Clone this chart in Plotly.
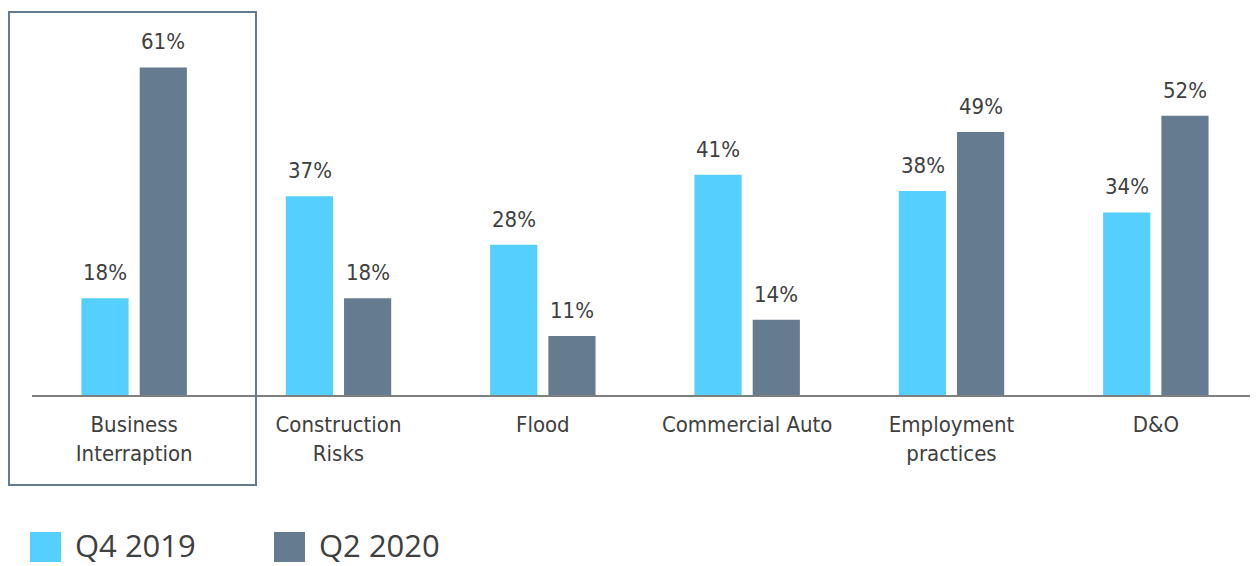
import plotly.graph_objects as go

categories = ["Business<br>Interraption", "Construction<br>Risks", "Flood",
              "Commercial Auto", "Employment<br>practices", "D&O"]
q4_2019 = [18, 37, 28, 41, 38, 34]
q2_2020 = [61, 18, 11, 14, 49, 52]
series_names = ["Q4 2019", "Q2 2020"]
colors = ["#55CFFD", "#657B8F"]

TEXT = "#404040"
LABEL_FONT = "DejaVu Sans Condensed, DejaVu Sans, sans-serif"
LEGEND_FONT = "Open Sans, Noto Sans, sans-serif"

fig = go.Figure()
for name, vals, col in zip(series_names, [q4_2019, q2_2020], colors):
    fig.add_trace(go.Bar(x=categories, y=vals, name=name, marker_color=col,
                         marker_line_width=0, showlegend=False))

# value labels above bars (offset left/right for the grouped bars)
for vals, shift in [(q4_2019, -29), (q2_2020, 29)]:
    for cat, v in zip(categories, vals):
        fig.add_annotation(x=cat, y=v, text=f"{v}%", showarrow=False,
                           xshift=shift, yshift=11, yanchor="bottom",
                           font=dict(family=LABEL_FONT, size=22, color=TEXT))

# highlight box around first category
fig.add_shape(type="rect", xref="paper", yref="paper",
              x0=-0.0188, x1=0.1827, y0=-0.234, y1=0.995,
              line=dict(color="#637A90", width=2))

# custom legend
for i, (name, col) in enumerate(zip(series_names, colors)):
    x0 = (30 + i * 244 - 32) / 1226
    fig.add_shape(type="rect", xref="paper", yref="paper",
                  x0=x0, x1=x0 + 31 / 1226,
                  y0=(395 - 562) / 385, y1=(395 - 532) / 385,
                  fillcolor=col, line_width=0)
    fig.add_annotation(xref="paper", yref="paper", x=x0 + 43 / 1226,
                       y=(395 - 545) / 385, text=name, showarrow=False,
                       xanchor="left", yanchor="middle",
                       font=dict(family=LEGEND_FONT, size=31, color=TEXT))

# page has an 8px body margin, so the figure is 8px smaller each way
fig.update_layout(
    width=1250, height=558,
    margin=dict(l=24, r=0, t=2, b=171),
    barmode="group", bargap=0.43, bargroupgap=0.19,
    plot_bgcolor="white", paper_bgcolor="white",
    font=dict(family=LABEL_FONT, color=TEXT),
    xaxis=dict(showline=True, linecolor="#7F7F7F", linewidth=2,
               tickfont=dict(family=LABEL_FONT, size=22, color=TEXT),
               ticks="", ticklabelstandoff=9, showgrid=False),
    yaxis=dict(range=[0, 71.7], visible=False, showgrid=False),
)

fig.write_html("out.html")
